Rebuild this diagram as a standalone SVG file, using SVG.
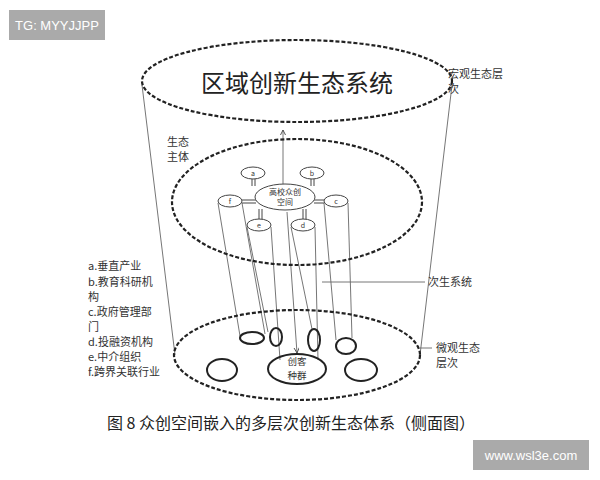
<svg xmlns="http://www.w3.org/2000/svg" width="600" height="480" viewBox="0 0 600 480">
<style>
text{font-family:"Noto Sans CJK SC","Liberation Sans",sans-serif;fill:#333}
.dash{fill:none;stroke:#222;stroke-width:2.2;stroke-dasharray:4 2}
.s{fill:#fff;stroke:#444;stroke-width:1}
.b{fill:none;stroke:#222;stroke-width:2}
.l{stroke:#666;stroke-width:0.9;fill:none}
.lbl{font-size:11px}
</style>
<defs><marker id="ar" markerWidth="8" markerHeight="8" refX="6" refY="3" orient="auto"><path d="M0,0 L6,3 L0,6" fill="none" stroke="#444"/></marker></defs>
<rect x="0" y="0" width="600" height="480" fill="#fff"/>
<rect x="9" y="10" width="96" height="30" fill="#aaa"/>
<text x="57" y="30" font-size="13" text-anchor="middle" style="fill:#fff;font-family:'Liberation Sans',sans-serif">TG: MYYJJPP</text>
<g id="connectors">
<path class="l" d="M142,85 L175,355 M452,85 L420,355"/>
<path class="l" d="M218,203 L240,336 M242,203 L265,334 M247,227 L268,332 M271,227 L280,360 M291,227 L312,329 M315,227 L318,360 M324,203 L336,340 M348,203 L352,338"/>
<path class="l" d="M283,184 L283,130" marker-end="url(#ar)"/>
<path class="l" d="M287,212 L297,353" marker-end="url(#ar)"/>
<path class="l" d="M322,282 L425,282 M420,348 L432,348"/>
<path d="M252,179 L252,186 M255,179 L255,186 M311,179 L311,186 M314,179 L314,186 M259,209 L259,219 M262,209 L262,219 M303,209 L303,219 M306,209 L306,219 M242,200 L256,200 M242,203 L256,203 M314,200 L324,200 M314,203 L324,203" stroke="#444" stroke-width="1"/>
</g>
<g id="macro"><ellipse class="dash" cx="297" cy="81" rx="155" ry="41"/>
<text x="297" y="92" font-size="24" text-anchor="middle" style="fill:#222">区域创新生态系统</text></g>
<g id="meso"><ellipse class="dash" cx="297" cy="202" rx="125" ry="63"/></g>
<g id="micro"><ellipse class="dash" cx="297" cy="355" rx="123" ry="45"/></g>
<g id="hub"><ellipse class="s" cx="285" cy="197" rx="30" ry="13"/>
<text x="285" y="195" font-size="8" text-anchor="middle">高校众创</text><text x="285" y="205" font-size="8" text-anchor="middle">空间</text></g>
<g id="na"><ellipse class="s" cx="253" cy="173" rx="12" ry="6"/><text x="253" y="176" font-size="7" text-anchor="middle">a</text></g>
<g id="nb"><ellipse class="s" cx="312" cy="173" rx="12" ry="6"/><text x="312" y="176" font-size="7" text-anchor="middle">b</text></g>
<g id="nf"><ellipse class="s" cx="230" cy="201" rx="12" ry="6"/><text x="230" y="204" font-size="7" text-anchor="middle">f</text></g>
<g id="nc"><ellipse class="s" cx="336" cy="201" rx="12" ry="6"/><text x="336" y="204" font-size="7" text-anchor="middle">c</text></g>
<g id="ne"><ellipse class="s" cx="259" cy="225" rx="12" ry="6"/><text x="259" y="228" font-size="7" text-anchor="middle">e</text></g>
<g id="nd"><ellipse class="s" cx="303" cy="225" rx="12" ry="6"/><text x="303" y="228" font-size="7" text-anchor="middle">d</text></g>
<g id="small">
<ellipse class="b" cx="252" cy="338" rx="12" ry="6"/>
<ellipse class="b" cx="276" cy="337" rx="6" ry="9"/>
<ellipse class="b" cx="314" cy="340" rx="6" ry="11"/>
<ellipse class="b" cx="346" cy="346" rx="10" ry="8"/>
<ellipse class="b" cx="222" cy="370" rx="15" ry="11"/>
<ellipse class="b" cx="361" cy="370" rx="16" ry="11"/>
</g>
<g id="maker"><ellipse class="b" cx="297" cy="369" rx="29" ry="15"/>
<text x="297" y="365" font-size="9.5" text-anchor="middle" style="font-family:'Noto Sans CJK SC',serif">创客</text>
<text x="297" y="379" font-size="9.5" text-anchor="middle" style="font-family:'Noto Sans CJK SC',serif">种群</text></g>
<g id="labels" class="lbl">
<text x="448" y="78" class="lbl">宏观生态层</text><text x="448" y="93" class="lbl">次</text>
<text x="167" y="146" class="lbl">生态</text><text x="167" y="161" class="lbl">主体</text>
<text x="428" y="286" class="lbl">次生系统</text>
<text x="436" y="352" class="lbl">微观生态</text><text x="436" y="367" class="lbl">层次</text>
<text x="88" y="270" class="lbl">a.垂直产业</text>
<text x="88" y="286" class="lbl">b.教育科研机</text>
<text x="88" y="301" class="lbl">构</text>
<text x="88" y="316" class="lbl">c.政府管理部</text>
<text x="88" y="331" class="lbl">门</text>
<text x="88" y="346" class="lbl">d.投融资机构</text>
<text x="88" y="361" class="lbl">e.中介组织</text>
<text x="88" y="376" class="lbl">f.跨界关联行业</text>
</g>
<text x="107" y="429" font-size="16" style="fill:#222">图 8  众创空间嵌入的多层次创新生态体系（侧面图）</text>
<rect x="473" y="440" width="116" height="30" fill="#aaa"/>
<text x="531" y="460" font-size="13" text-anchor="middle" style="fill:#fff;font-family:'Liberation Sans',sans-serif">www.wsl3e.com</text>
</svg>
